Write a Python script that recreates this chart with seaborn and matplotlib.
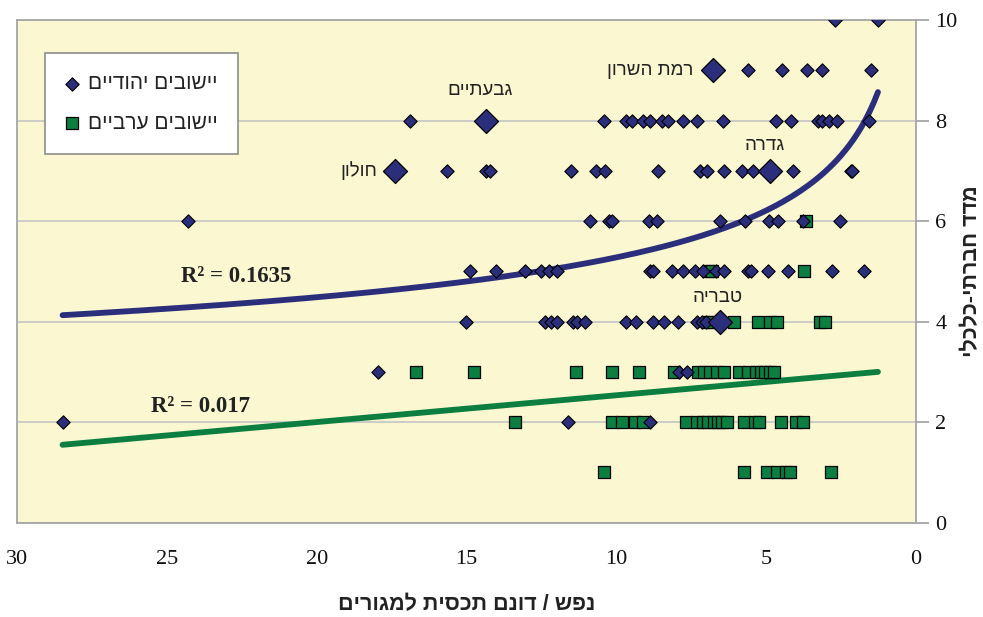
import numpy as np
import pandas as pd
import matplotlib
matplotlib.use("Agg")
import matplotlib.pyplot as plt
import seaborn as sns

# ---------------- data (x = persons per dunam, y = socio-economic index) ----------------
jewish_by_index = {
    10: [2.70, 1.27],
    9: [5.60, 4.47, 3.63, 3.13, 1.50],
    8: [16.88, 10.40, 9.68, 9.49, 9.11, 8.86, 8.49, 8.29, 7.77, 7.31, 6.43, 4.66, 4.17,
        3.28, 3.14, 2.89, 2.63, 1.57],
    7: [15.66, 14.34, 14.20, 11.51, 10.68, 10.37, 8.60, 7.20, 6.97, 6.40, 5.80, 5.43,
        4.09, 2.17, 2.12],
    6: [24.29, 10.87, 10.25, 10.14, 8.92, 8.65, 6.54, 5.72, 4.89, 4.61, 3.77, 2.54],
    5: [14.89, 14.00, 13.05, 12.51, 12.26, 11.98, 8.88, 8.78, 8.14, 7.76, 7.37, 7.12,
        6.66, 6.40, 5.60, 5.52, 4.94, 4.26, 2.80, 1.74],
    4: [15.03, 12.37, 12.17, 11.98, 11.45, 11.31, 11.05, 9.68, 9.36, 8.77, 8.40, 7.94,
        7.30, 7.15, 7.01],
    3: [17.95, 7.91, 7.63],
    2: [28.48, 11.62, 8.86],
}
arab_by_index = {
    6: [3.68],
    5: [6.95, 6.82, 3.75],
    4: [6.97, 6.82, 6.06, 5.26, 4.86, 4.63, 3.20, 3.03],
    3: [16.68, 14.74, 11.34, 10.14, 9.24, 8.07, 7.28, 7.07, 6.87, 6.63, 6.41, 5.90,
        5.60, 5.34, 5.18, 5.04, 4.87, 4.73],
    2: [13.39, 10.14, 9.80, 9.37, 9.10, 7.66, 7.32, 7.12, 6.93, 6.75, 6.60, 6.47, 6.30,
        5.75, 5.38, 5.24, 4.50, 4.00, 3.76],
    1: [10.40, 5.75, 4.97, 4.64, 4.35, 4.21, 2.85],
}
# highlighted (named) Jewish localities
city_names = ["רמת השרון", "גבעתיים", "חולון", "גדרה", "טבריה"]
city_x = [6.77, 14.36, 17.39, 4.88, 6.54]
city_y = [9, 8, 7, 7, 4]

# trendline coefficients (power for Jewish, linear for Arab)
jewish_power_a = 9.06
jewish_power_b = -0.2347
arab_lin_slope = -0.0533
arab_lin_intercept = 3.068

legend_labels = ["יישובים יהודיים", "יישובים ערביים"]
x_title = "נפש / דונם תכסית למגורים"
y_title = "מדד חברתי-כלכלי"
r2_jewish = "0.1635"
r2_arab = "0.017"
x_ticks = [30, 25, 20, 15, 10, 5, 0]
y_ticks = [0, 2, 4, 6, 8, 10]


def vis(s):
    """Hebrew is right-to-left: give matplotlib the visual order."""
    return s[::-1]


def frame(d):
    xs, ys = [], []
    for k, v in d.items():
        xs += v
        ys += [k] * len(v)
    return pd.DataFrame({"x": xs, "y": ys})


jew = frame(jewish_by_index)
arab = frame(arab_by_index)
cities = pd.DataFrame({"x": city_x, "y": city_y, "name": city_names})
jew_all = pd.concat([jew, cities[["x", "y"]]], ignore_index=True)

NAVY = "#2B2E7B"
GREEN = "#0C7F40"
BG = "#FBF7D1"
GRAY = "#A6A6A6"
HEB = ["Liberation Sans", "DejaVu Sans"]
SERIF = ["Liberation Serif", "DejaVu Serif"]

sns.set_style("white")
plt.rcParams["font.family"] = HEB

fig = plt.figure(figsize=(9.83, 6.17), dpi=100)
ax = fig.add_axes([17 / 983, 1 - 522.7 / 617, (916 - 17) / 983, (522.7 - 20) / 617])
ax.set_facecolor(BG)

# ---------------- trend lines over the data's x range ----------------
xr = np.linspace(jew_all["x"].min(), jew_all["x"].max(), 200)
sns.lineplot(x=xr, y=jewish_power_a * xr ** jewish_power_b, color=NAVY, lw=4.2,
             ax=ax, zorder=3, legend=False)
sns.lineplot(x=xr, y=arab_lin_slope * xr + arab_lin_intercept, color=GREEN, lw=4.2,
             ax=ax, zorder=3, legend=False)

# ---------------- points ----------------
sns.scatterplot(data=jew, x="x", y="y", marker="D", s=46, color=NAVY,
                edgecolor="black", linewidth=0.8, ax=ax, zorder=5,
                label=vis(legend_labels[0]))
sns.scatterplot(data=arab, x="x", y="y", marker="s", s=66, color=GREEN,
                edgecolor="black", linewidth=0.9, ax=ax, zorder=4,
                label=vis(legend_labels[1]))
sns.scatterplot(data=cities, x="x", y="y", marker="D", s=150, color=NAVY,
                edgecolor="black", linewidth=0.9, ax=ax, zorder=6, legend=False)

# city labels
offsets = {
    "רמת השרון": (-20, 0, "right", "center"),
    "גבעתיים": (-6, 22, "center", "bottom"),
    "חולון": (-18, 0, "right", "center"),
    "גדרה": (-5, 17, "center", "bottom"),
    "טבריה": (-2, 16, "center", "bottom"),
}
for _, r in cities.iterrows():
    dx, dy, ha, va = offsets[r["name"]]
    ax.annotate(vis(r["name"]), (r["x"], r["y"]), xytext=(dx, dy),
                textcoords="offset pixels", ha=ha, va=va, fontsize=13.5,
                color="#222222", family=HEB)

# R^2 labels
ax.text(22.7, 4.89, "R² = " + r2_jewish, ha="center", va="center",
        fontsize=16.5, fontweight="bold", family=SERIF, color="#222222")
ax.text(23.86, 2.32, "R² = " + r2_arab, ha="center", va="center",
        fontsize=16.5, fontweight="bold", family=SERIF, color="#222222")

# ---------------- axes ----------------
ax.set_xlim(30, 0)
ax.set_ylim(0, 10)
ax.set_xticks(x_ticks)
ax.set_yticks(y_ticks)
ax.yaxis.tick_right()
ax.grid(axis="y", color="#C4C4C4", lw=1.2)
ax.grid(axis="x", visible=False)
ax.set_axisbelow(True)
for s in ax.spines.values():
    s.set_color(GRAY)
    s.set_linewidth(1.3)
ax.tick_params(axis="both", direction="out", length=9, width=1.3, color=GRAY,
               labelsize=16, pad=5)
ax.tick_params(axis="x", pad=11)
for lab in ax.get_xticklabels() + ax.get_yticklabels():
    lab.set_family(SERIF)
    lab.set_color("#111111")

ax.set_xlabel(vis(x_title), fontsize=15.5, fontweight="bold", family=HEB,
              labelpad=18, color="#222222")
ax.set_ylabel("")
fig.text(972 / 983, 1 - 271 / 617, vis(y_title), rotation=90, ha="center",
         va="center", fontsize=15.5, fontweight="bold", family=HEB, color="#222222")

leg = ax.legend(loc="upper left", bbox_to_anchor=(0.031, 0.934), borderaxespad=0,
                frameon=True, fancybox=False, facecolor="white", framealpha=1,
                edgecolor="#8C8C8C", fontsize=15, labelspacing=1.0, borderpad=1.0,
                handlelength=0.6, handletextpad=0.45, markerscale=1.0)
leg.get_frame().set_linewidth(1.2)
for t in leg.get_texts():
    t.set_family(HEB)
    t.set_color("#222222")

fig.savefig("out.png", dpi=100)
